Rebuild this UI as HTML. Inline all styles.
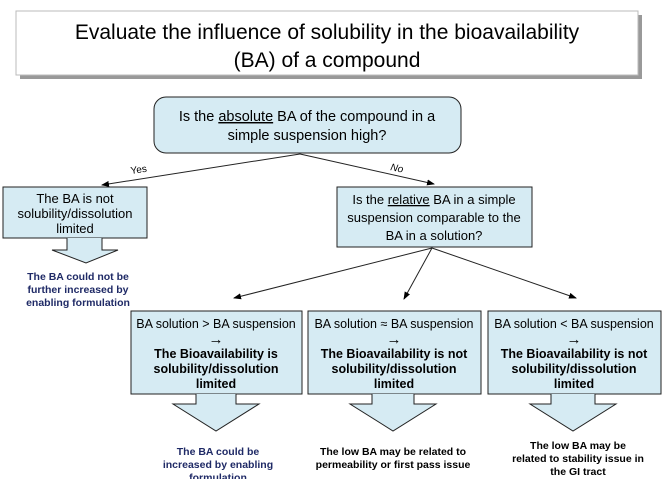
<!DOCTYPE html>
<html><head><meta charset="utf-8"><style>
body{margin:0;background:#fff;}
svg text{font-family:"Liberation Sans",Arial,sans-serif;}
</style></head><body>
<svg width="668" height="479" viewBox="0 0 668 479" xmlns="http://www.w3.org/2000/svg">
<defs><marker id="a" markerWidth="8" markerHeight="6" refX="7" refY="3" orient="auto"><path d="M0,0L8,3L0,6z" fill="#000"/></marker></defs>
<rect x="20" y="15" width="622" height="64" fill="#999"/>
<rect x="16" y="11" width="622" height="64" fill="#fff" stroke="#bbb"/>
<text x="327" y="39" font-size="21" text-anchor="middle">Evaluate the influence of solubility in the bioavailability</text>
<text x="327" y="67" font-size="21" text-anchor="middle">(BA) of a compound</text>
<rect x="154" y="97" width="307" height="56" rx="12" fill="#d6ebf3" stroke="#222"/>
<text x="307" y="121" font-size="14.5" text-anchor="middle">Is the <tspan text-decoration="underline">absolute</tspan> BA of the compound in a</text>
<text x="307" y="140" font-size="14.5" text-anchor="middle">simple suspension high?</text>
<line x1="300" y1="154" x2="102" y2="185" stroke="#222" marker-end="url(#a)"/>
<line x1="300" y1="154" x2="434" y2="184" stroke="#222" marker-end="url(#a)"/>
<text x="131" y="174" font-size="10" transform="rotate(-8 131 174)">Yes</text>
<text x="390" y="170" font-size="10" font-style="italic" transform="rotate(12 390 170)">No</text>
<rect x="3" y="187" width="144" height="51" fill="#d6ebf3" stroke="#222"/>
<text x="75" y="203" font-size="13" text-anchor="middle">The BA is not</text>
<text x="75" y="218" font-size="13" text-anchor="middle">solubility/dissolution</text>
<text x="75" y="233" font-size="13" text-anchor="middle">limited</text>
<path d="M67,238V250H52L86,263L118,250H102V238" fill="#d6ebf3" stroke="#222"/>
<g font-size="10.5" font-weight="bold" fill="#1f2a66" text-anchor="middle">
<text x="78" y="280">The BA could not be</text><text x="78" y="293">further increased by</text><text x="78" y="306">enabling formulation</text></g>
<rect x="337" y="187" width="195" height="60" fill="#d6ebf3" stroke="#222"/>
<text x="434" y="204" font-size="13" text-anchor="middle">Is the <tspan text-decoration="underline">relative</tspan> BA in a simple</text>
<text x="434" y="222" font-size="13" text-anchor="middle">suspension comparable to the</text>
<text x="434" y="240" font-size="13" text-anchor="middle">BA in a solution?</text>
<line x1="432" y1="248" x2="234" y2="298" stroke="#222" marker-end="url(#a)"/>
<line x1="432" y1="248" x2="404" y2="299" stroke="#222" marker-end="url(#a)"/>
<line x1="432" y1="248" x2="576" y2="298" stroke="#222" marker-end="url(#a)"/>
<g stroke="#222" fill="#d6ebf3">
<rect x="131" y="311" width="171" height="83"/><rect x="308" y="311" width="173" height="83"/><rect x="488" y="311" width="173" height="83"/>
<path d="M196,394V404H173L216,431L259,404H236V394"/>
<path d="M372,394V404H350L393,431L436,404H414V394"/>
<path d="M551,394V404H530L573,431L616,404H595V394"/>
</g>
<g font-size="12.5" text-anchor="middle">
<text x="216" y="328">BA solution &gt; BA suspension</text><text x="216" y="344" font-size="15">→</text>
<text x="394" y="328">BA solution ≈ BA suspension</text><text x="394" y="344" font-size="15">→</text>
<text x="574" y="328">BA solution &lt; BA suspension</text><text x="574" y="344" font-size="15">→</text>
</g>
<g font-size="12.5" font-weight="bold" text-anchor="middle">
<text x="216" y="358">The Bioavailability is</text><text x="216" y="373">solubility/dissolution</text><text x="216" y="388">limited</text>
<text x="394" y="358">The Bioavailability is not</text><text x="394" y="373">solubility/dissolution</text><text x="394" y="388">limited</text>
<text x="574" y="358">The Bioavailability is not</text><text x="574" y="373">solubility/dissolution</text><text x="574" y="388">limited</text>
</g>
<g font-size="10.5" font-weight="bold" text-anchor="middle">
<g fill="#1f2a66"><text x="218" y="455">The BA could be</text><text x="218" y="468">increased by enabling</text><text x="218" y="481">formulation</text></g>
<text x="393" y="455">The low BA may be related to</text><text x="393" y="468">permeability or first pass issue</text>
<text x="578" y="449">The low BA may be</text><text x="578" y="462">related to stability issue in</text><text x="578" y="475">the GI tract</text>
</g>
</svg>
</body></html>
